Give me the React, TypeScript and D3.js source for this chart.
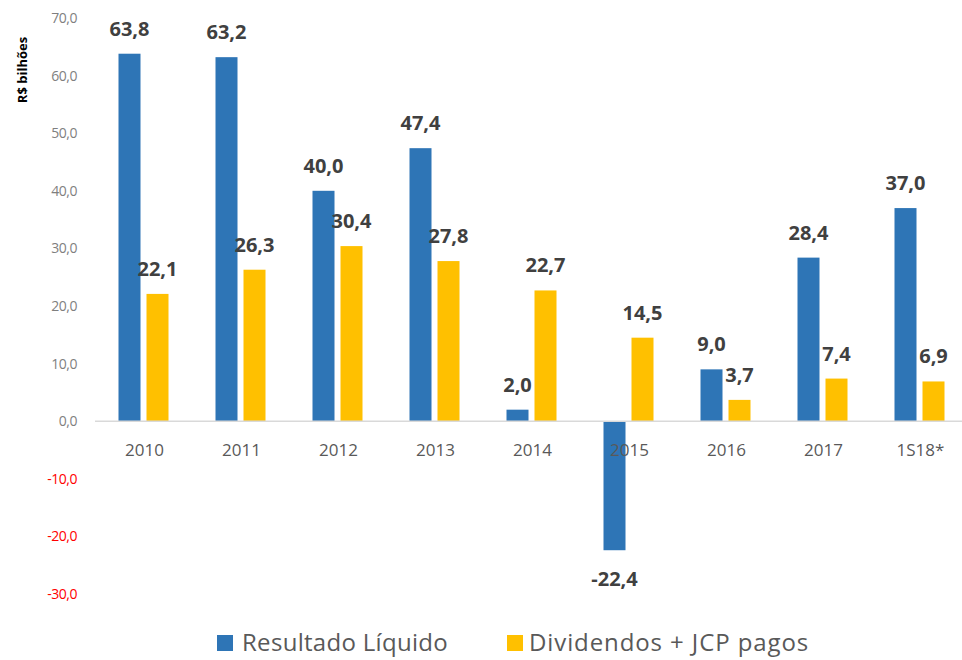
import * as d3 from "d3";

const categories = ["2010", "2011", "2012", "2013", "2014", "2015", "2016", "2017", "1S18*"];
const resultado = [63.8, 63.2, 40.0, 47.4, 2.0, -22.4, 9.0, 28.4, 37.0];
const dividendos = [22.1, 26.3, 30.4, 27.8, 22.7, 14.5, 3.7, 7.4, 6.9];
const yTicks = [70, 60, 50, 40, 30, 20, 10, 0, -10, -20, -30];

const series = [
  { key: "Resultado Líquido", values: resultado, color: "#2E75B6" },
  { key: "Dividendos + JCP pagos", values: dividendos, color: "#FFC000" },
];

const width = 962;
const height = 660;
const font = "'Open Sans', sans-serif";
const fmt = (v: number) => v.toFixed(1).replace(".", ",");

export default function App() {
  const x = d3.scaleBand().domain(categories).range([95, 968]);
  const x1 = d3
    .scaleBand()
    .domain(series.map((s) => s.key))
    .range([-25, 25])
    .paddingInner(6 / 28);
  const y = d3.scaleLinear().domain([-30, 70]).range([594, 18]);

  return (
    <svg
      width={width}
      height={height}
      style={{ position: "absolute", left: 0, top: 0, fontFamily: font }}
    >
      <rect width={width} height={height} fill="#fff" />

      {/* y axis labels */}
      {yTicks.map((t) => (
        <text
          key={t}
          x={77}
          y={y(t)}
          dy="0.35em"
          textAnchor="end"
          fontSize={14}
          fill={t < 0 ? "#FF0000" : "#7F7F7F"}
          letterSpacing={-0.5}
        >
          {fmt(t)}
        </text>
      ))}

      <text
        transform={`translate(27, 70) rotate(-90)`}
        textAnchor="middle"
        fontSize={13}
        fontWeight="bold"
        fill="#000"
      >
        R$ bilhões
      </text>

      {/* bars */}
      {series.map((s) =>
        s.values.map((v, i) => {
          const cx = x(categories[i])! + x.bandwidth() / 2;
          const bx = cx + x1(s.key)!;
          return (
            <rect
              key={s.key + i}
              x={bx}
              y={y(Math.max(0, v))}
              width={x1.bandwidth()}
              height={Math.abs(y(v) - y(0))}
              fill={s.color}
            />
          );
        })
      )}

      {/* zero line */}
      <line x1={95} x2={962} y1={y(0)} y2={y(0)} stroke="#D9D9D9" strokeWidth={1.5} />

      {/* category labels */}
      {categories.map((c) => (
        <text
          key={c}
          x={x(c)! + x.bandwidth() / 2 + 1}
          y={456}
          textAnchor="middle"
          fontSize={17}
          fill="#595959"
        >
          {c}
        </text>
      ))}

      {/* value labels */}
      {series.map((s) =>
        s.values.map((v, i) => {
          const cx = x(categories[i])! + x.bandwidth() / 2 + x1(s.key)! + x1.bandwidth() / 2;
          return (
            <text
              key={"l" + s.key + i}
              x={cx}
              y={v >= 0 ? y(v) - 18 : y(v) + 36}
              textAnchor="middle"
              fontSize={20}
              fontWeight="bold"
              fill="#404040"
            >
              {fmt(v)}
            </text>
          );
        })
      )}

      {/* legend */}
      <g>
        <rect x={217} y={635} width={16} height={16} fill={series[0].color} />
        <text x={242} y={651} fontSize={24} fill="#595959" letterSpacing={0.3}>
          {series[0].key}
        </text>
        <rect x={507} y={635} width={16} height={16} fill={series[1].color} />
        <text x={529} y={651} fontSize={24} fill="#595959" letterSpacing={0.9}>
          {series[1].key}
        </text>
      </g>
    </svg>
  );
}
